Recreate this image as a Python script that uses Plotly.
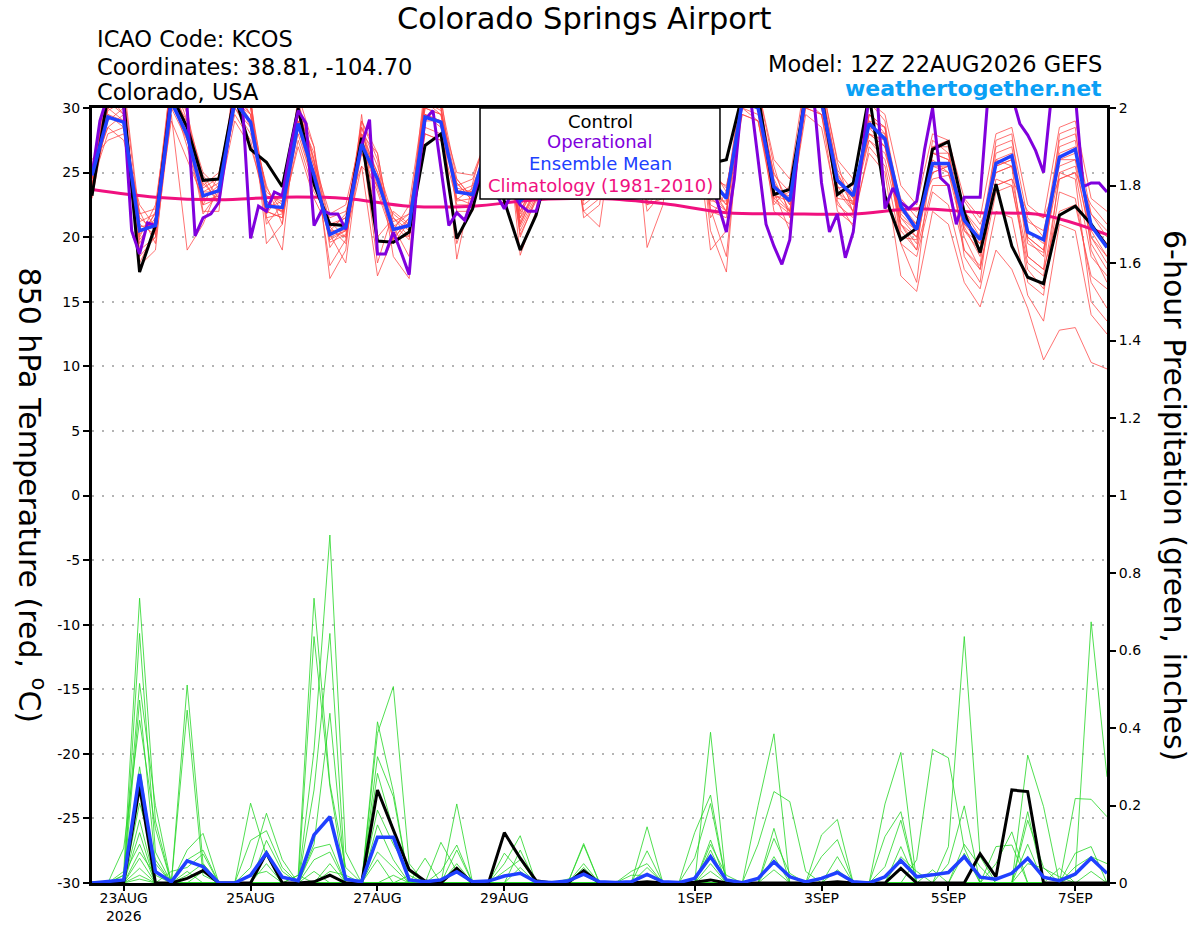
import pandas as pd
import plotly.graph_objects as go
from plotly.subplots import make_subplots

FONT = "DejaVu Sans"

# 6-hourly GEFS steps, 3-hourly operational run, daily climatology
times = pd.date_range("2026-08-22 12:00", periods=65, freq="6h")
times_op = pd.date_range("2026-08-22 12:00", periods=129, freq="3h")
times_clim = pd.date_range("2026-08-22 12:00", periods=17, freq="D")

tick_dates = ["2026-08-23", "2026-08-25", "2026-08-27", "2026-08-29",
              "2026-09-01", "2026-09-03", "2026-09-05", "2026-09-07"]
tick_text = ["23AUG<br>2026", "25AUG", "27AUG", "29AUG", "1SEP", "3SEP", "5SEP", "7SEP"]
temp_ticks = [-30, -25, -20, -15, -10, -5, 0, 5, 10, 15, 20, 25, 30]

# 850 hPa temperature (C)
control_temp = [
    23.2, 31.0, 30.5, 17.3, 20.9, 31.0, 28.5, 24.4, 24.5, 31.0,
    26.8, 25.8, 23.9, 30.0, 24.1, 21.0, 20.9, 27.7, 19.7, 19.6,
    20.4, 27.1, 28.0, 19.9, 22.2, 27.0, 22.8, 19.0, 21.7, 26.5,
    29.5, 25.0, 24.0, 29.5, 30.5, 25.0, 25.0, 30.5, 28.5, 25.7,
    26.0, 31.0, 31.0, 23.3, 23.7, 31.0, 31.0, 23.3, 24.2, 31.0,
    23.2, 19.8, 20.7, 26.8, 27.4, 21.9, 18.8, 24.1, 19.3, 16.9,
    16.4, 21.7, 22.4, 21.0, 19.3]

mean_temp = [
    24.8, 29.3, 28.9, 20.5, 20.9, 30.5, 27.9, 23.2, 23.6, 30.5,
    28.9, 22.4, 22.3, 28.8, 24.8, 20.2, 20.8, 27.2, 24.5, 20.6,
    20.9, 29.3, 28.9, 23.5, 23.3, 27.5, 27.5, 22.8, 24.0, 29.0,
    29.0, 24.0, 24.0, 29.0, 29.5, 24.0, 24.5, 29.5, 29.0, 24.5,
    23.0, 30.5, 30.0, 23.9, 22.8, 31.0, 30.5, 24.4, 23.2, 28.8,
    27.6, 22.4, 20.6, 25.7, 25.7, 21.3, 19.8, 25.7, 26.3, 20.4,
    19.8, 26.2, 26.8, 20.9, 19.2]

oper_temp = [
    24.8, 29.0, 31.0, 31.0, 30.0, 20.5, 18.7, 21.1, 20.9, 25.5,
    31.0, 31.0, 30.0, 20.1, 21.5, 21.8, 22.7, 26.8, 31.0, 30.0,
    19.9, 22.4, 22.0, 23.5, 23.2, 26.8, 29.8, 28.8, 20.9, 22.1,
    21.8, 21.8, 20.6, 24.2, 27.1, 29.1, 18.7, 18.7, 20.4, 18.8,
    17.1, 24.2, 29.1, 29.8, 25.5, 20.9, 21.9, 21.3, 23.0, 25.0,
    24.0, 23.3, 22.2, 23.5, 22.5, 22.0, 22.0, 24.0, 27.0, 29.5,
    30.0, 28.0, 25.5, 24.5, 24.0, 26.0, 29.0, 31.0, 31.0, 29.0,
    26.0, 25.0, 24.5, 26.5, 29.5, 31.0, 31.0, 28.0, 24.5, 22.5,
    20.4, 24.5, 31.0, 31.0, 26.0, 21.0, 19.3, 17.9, 19.8, 26.8,
    31.0, 31.0, 24.2, 20.4, 21.8, 18.4, 20.4, 25.5, 31.0, 31.0,
    22.2, 23.8, 22.7, 22.2, 22.8, 26.8, 30.0, 24.6, 24.0, 21.0,
    23.1, 23.1, 23.1, 31.0, 31.0, 31.0, 31.0, 28.8, 27.9, 26.7,
    25.0, 31.0, 31.0, 31.0, 31.0, 23.9, 24.2, 24.2, 23.5]

clim_temp = [23.7, 23.1, 22.9, 23.1, 23.0, 22.4, 22.4, 22.9, 23.0,
             22.6, 21.9, 21.8, 21.8, 22.2, 21.9, 21.7, 20.2]

member_temp = [
    [24.0, 31.5, 30.0, 19.8, 21.5, 32.0, 28.5, 23.8, 24.6, 31.5,
     29.5, 22.8, 21.9, 29.5, 25.5, 19.6, 20.2, 28.0, 25.0, 21.2,
     21.8, 30.5, 29.8, 22.9, 23.8, 27.5, 28.5, 21.0, 23.5, 30.5,
     30.0, 23.5, 24.8, 30.0, 30.5, 23.2, 25.0, 31.0, 30.0, 23.8,
     22.5, 31.5, 31.0, 24.5, 22.0, 32.0, 31.5, 25.0, 22.6, 29.5,
     28.0, 21.5, 20.0, 26.5, 26.0, 20.5, 18.9, 26.5, 27.0, 19.5,
     18.8, 27.0, 27.5, 20.0, 18.0],
    [25.2, 28.5, 29.5, 21.2, 21.8, 31.0, 27.0, 22.5, 23.0, 30.0,
     28.0, 23.2, 22.8, 28.0, 24.0, 20.8, 21.5, 26.5, 23.5, 19.9,
     20.1, 28.5, 28.0, 24.2, 22.8, 26.5, 27.5, 22.0, 24.5, 29.0,
     28.5, 24.5, 23.5, 28.5, 29.0, 24.8, 24.0, 29.5, 28.5, 25.2,
     23.8, 30.0, 29.5, 23.0, 23.5, 30.5, 30.0, 23.8, 24.0, 28.0,
     27.0, 23.0, 21.5, 25.0, 25.5, 22.0, 20.5, 25.0, 25.5, 21.2,
     20.5, 25.5, 26.0, 21.8, 20.0],
    [23.5, 30.5, 31.0, 18.5, 20.0, 33.0, 29.5, 24.5, 22.5, 32.0,
     30.5, 21.5, 19.0, 30.5, 26.0, 17.8, 19.8, 29.0, 26.0, 18.5,
     16.8, 31.5, 30.5, 18.3, 24.2, 28.5, 29.5, 20.2, 22.8, 31.0,
     30.5, 22.8, 25.5, 30.5, 31.5, 22.5, 23.8, 32.0, 31.0, 22.0,
     21.5, 32.5, 31.5, 25.5, 21.5, 33.0, 32.0, 25.8, 21.8, 30.5,
     29.0, 20.5, 19.0, 27.5, 26.5, 19.0, 17.8, 27.5, 28.0, 18.5,
     17.5, 28.0, 28.5, 19.0, 16.5],
    [26.0, 27.5, 28.0, 22.0, 19.5, 29.5, 19.0, 21.0, 24.0, 29.5,
     27.5, 22.0, 21.5, 27.5, 23.5, 21.5, 22.0, 25.5, 24.0, 21.0,
     19.8, 28.0, 27.5, 24.5, 23.0, 25.5, 27.0, 21.5, 25.0, 28.5,
     28.0, 25.0, 23.0, 28.0, 28.5, 25.5, 24.5, 29.0, 28.0, 24.5,
     24.0, 29.5, 29.0, 22.5, 24.0, 30.0, 29.5, 24.2, 23.5, 27.5,
     26.5, 22.5, 22.0, 24.5, 24.8, 22.8, 21.0, 24.0, 24.5, 22.0,
     21.5, 24.5, 25.0, 22.5, 21.0],
    [24.5, 32.0, 30.5, 20.0, 22.5, 31.5, 28.0, 21.8, 23.5, 31.0,
     29.0, 23.8, 22.0, 29.0, 25.0, 20.5, 20.5, 27.5, 18.0, 22.0,
     21.0, 30.0, 29.5, 22.5, 22.5, 27.0, 28.0, 20.5, 23.0, 30.0,
     29.5, 22.0, 20.8, 29.5, 30.0, 22.0, 23.5, 30.5, 29.5, 19.0,
     20.5, 31.0, 30.5, 24.0, 23.0, 31.5, 31.0, 23.5, 22.0, 29.0,
     27.5, 21.0, 19.5, 26.0, 25.0, 20.0, 17.5, 24.5, 24.0, 17.5,
     16.0, 23.5, 23.0, 16.5, 14.5],
    [23.0, 29.5, 29.0, 17.8, 19.0, 30.5, 28.5, 24.0, 25.0, 30.5,
     29.5, 21.0, 22.5, 29.5, 26.5, 21.0, 21.5, 28.5, 24.5, 20.5,
     22.5, 31.0, 30.0, 24.0, 24.5, 28.0, 29.0, 21.2, 24.0, 30.5,
     29.5, 23.8, 24.5, 29.5, 30.0, 24.0, 25.5, 31.0, 30.5, 23.5,
     22.0, 30.5, 30.0, 25.0, 22.5, 31.5, 30.5, 24.8, 23.0, 28.5,
     28.0, 22.0, 21.0, 26.5, 26.5, 21.5, 19.0, 26.0, 26.5, 20.0,
     19.0, 26.5, 27.0, 20.5, 18.5],
    [25.5, 30.0, 32.0, 21.5, 20.5, 32.5, 30.0, 22.0, 22.0, 33.0,
     31.0, 19.5, 21.0, 31.0, 27.0, 16.8, 19.0, 29.5, 20.0, 21.5,
     20.5, 32.0, 31.0, 22.0, 22.0, 29.0, 30.0, 18.6, 22.0, 31.5,
     31.0, 21.5, 22.5, 31.0, 32.0, 19.2, 22.5, 32.5, 31.5, 20.5,
     17.3, 31.5, 31.5, 23.5, 20.5, 32.0, 31.5, 22.8, 20.8, 29.5,
     28.5, 19.5, 16.5, 27.0, 27.0, 18.5, 16.5, 26.0, 25.5, 16.5,
     15.5, 25.0, 24.5, 15.0, 13.5],
    [24.2, 28.0, 28.5, 20.8, 21.0, 30.0, 27.5, 23.5, 24.2, 30.0,
     28.5, 22.2, 22.8, 28.5, 24.5, 19.8, 20.5, 27.0, 23.8, 20.2,
     21.5, 29.5, 29.0, 23.8, 23.5, 27.5, 28.5, 22.5, 24.0, 29.5,
     29.0, 23.2, 23.8, 29.0, 29.5, 23.5, 24.0, 30.5, 29.5, 22.8,
     22.8, 31.0, 30.5, 24.2, 22.5, 31.0, 30.5, 24.5, 23.0, 28.0,
     27.5, 21.8, 20.5, 25.5, 25.5, 21.0, 19.5, 25.5, 26.0, 20.5,
     19.5, 26.0, 26.5, 21.0, 19.5],
    [24.8, 31.0, 29.5, 19.0, 20.0, 31.0, 29.0, 25.0, 23.8, 31.5,
     30.0, 23.5, 22.5, 30.0, 25.8, 21.8, 22.5, 28.0, 26.5, 19.5,
     21.2, 30.5, 29.5, 25.0, 24.8, 28.0, 29.0, 23.5, 25.5, 31.0,
     30.0, 24.8, 25.0, 30.5, 31.0, 25.0, 25.8, 31.5, 30.5, 25.5,
     23.5, 32.0, 31.5, 26.0, 24.5, 32.5, 32.0, 26.0, 24.5, 30.5,
     29.5, 24.0, 22.5, 28.0, 27.5, 23.0, 21.5, 28.0, 28.5, 22.5,
     21.5, 28.5, 29.0, 23.0, 22.0],
    [23.8, 29.0, 30.0, 20.2, 21.8, 31.5, 28.0, 22.8, 23.2, 30.5,
     29.0, 22.0, 21.5, 29.0, 25.0, 20.2, 18.0, 27.5, 25.0, 20.8,
     18.5, 29.5, 29.0, 19.5, 23.0, 27.0, 28.0, 20.8, 23.2, 29.5,
     29.0, 22.5, 23.5, 29.0, 29.5, 22.8, 24.0, 30.0, 29.0, 22.2,
     18.5, 30.5, 30.0, 22.0, 21.0, 30.5, 29.5, 22.0, 21.0, 27.0,
     25.5, 19.5, 18.5, 23.5, 22.5, 17.5, 16.0, 22.0, 21.5, 15.5,
     13.5, 21.0, 20.5, 14.0, 12.5],
    [24.5, 30.5, 29.5, 20.5, 21.2, 31.0, 28.5, 23.5, 23.5, 31.0,
     29.5, 22.5, 22.0, 29.5, 25.0, 20.0, 20.5, 28.0, 24.5, 20.5,
     21.0, 30.0, 29.5, 23.5, 23.5, 27.5, 28.5, 21.8, 24.0, 30.0,
     29.5, 24.0, 24.5, 29.5, 30.0, 24.5, 24.0, 30.5, 29.5, 24.0,
     23.0, 30.0, 29.0, 23.0, 22.0, 29.5, 28.5, 22.5, 21.5, 26.5,
     25.0, 17.0, 15.8, 22.0, 21.0, 16.5, 14.6, 19.0, 17.5, 14.5,
     10.5, 12.8, 13.0, 10.3, 9.8],
    [25.0, 31.0, 31.5, 21.0, 20.2, 30.0, 29.0, 24.2, 22.8, 32.0,
     30.0, 21.8, 23.5, 30.0, 26.0, 20.8, 19.5, 28.5, 25.5, 21.5,
     20.0, 31.0, 30.0, 23.0, 22.5, 28.0, 29.0, 20.0, 23.0, 30.5,
     30.5, 23.0, 24.0, 30.0, 30.5, 23.8, 24.8, 31.0, 30.0, 24.0,
     22.0, 31.0, 30.5, 23.5, 23.2, 31.0, 30.5, 23.0, 22.8, 28.5,
     27.0, 21.0, 20.0, 25.0, 25.5, 20.5, 19.5, 24.0, 24.5, 18.5,
     17.5, 22.0, 22.5, 17.0, 16.0],
    [24.6, 29.8, 30.5, 19.5, 22.0, 32.5, 29.0, 22.5, 24.8, 31.0,
     30.5, 23.0, 23.2, 30.0, 27.0, 19.2, 21.0, 29.0, 26.5, 19.8,
     21.5, 30.5, 30.5, 24.5, 23.0, 28.5, 29.5, 22.0, 24.5, 31.0,
     30.5, 25.5, 24.0, 31.0, 31.0, 23.0, 24.0, 31.5, 30.5, 21.5,
     23.5, 31.5, 31.0, 24.8, 23.5, 31.5, 31.5, 25.2, 23.5, 29.0,
     28.5, 22.5, 21.0, 27.0, 27.5, 22.0, 20.0, 27.0, 27.5, 21.5,
     20.0, 27.5, 28.0, 21.8, 20.5],
    [25.0, 28.5, 27.5, 22.5, 20.8, 29.0, 26.0, 23.0, 23.0, 29.0,
     27.0, 22.8, 22.0, 27.0, 23.0, 20.5, 20.0, 25.5, 17.0, 20.0,
     21.2, 28.0, 27.5, 22.8, 23.0, 26.5, 27.0, 21.5, 23.5, 28.5,
     28.0, 22.0, 23.0, 28.0, 28.0, 22.5, 23.0, 29.0, 28.0, 23.0,
     22.0, 29.5, 29.0, 23.5, 22.0, 30.0, 29.5, 23.5, 22.5, 27.5,
     26.0, 21.0, 19.0, 24.0, 24.0, 19.0, 17.5, 23.5, 24.0, 18.0,
     17.0, 24.5, 25.0, 18.5, 17.0],
    [23.5, 30.0, 29.0, 18.0, 20.5, 31.0, 27.5, 24.8, 23.0, 31.0,
     28.5, 21.5, 21.8, 29.0, 25.5, 20.5, 21.8, 27.5, 24.0, 21.8,
     20.8, 29.0, 29.0, 23.5, 24.0, 27.0, 28.0, 21.0, 23.8, 30.0,
     29.5, 23.5, 23.0, 29.5, 30.5, 24.2, 23.2, 30.5, 29.5, 22.5,
     21.8, 31.0, 30.5, 22.8, 21.8, 31.5, 31.0, 24.0, 22.0, 29.5,
     28.5, 20.0, 19.8, 26.5, 26.0, 20.8, 18.5, 25.5, 26.0, 19.8,
     18.5, 26.0, 26.0, 19.5, 17.5],
    [24.0, 29.5, 28.5, 21.8, 22.2, 30.5, 28.0, 23.0, 24.0, 30.5,
     29.0, 24.0, 21.0, 28.5, 24.0, 21.2, 20.0, 26.5, 24.5, 20.8,
     21.8, 29.5, 28.5, 24.2, 22.8, 27.0, 28.5, 22.8, 24.8, 29.5,
     29.0, 24.5, 24.8, 29.5, 29.5, 23.8, 25.0, 30.0, 29.0, 24.2,
     22.5, 30.5, 30.0, 23.2, 22.8, 30.5, 30.0, 24.5, 22.5, 28.0,
     27.0, 21.5, 20.5, 25.5, 25.0, 21.0, 20.0, 25.0, 25.5, 20.0,
     19.0, 25.0, 25.5, 20.0, 18.5],
]

# 6-hour precipitation (inches)
control_precip = [
    0, 0, 0.003, 0.249, 0, 0, 0.012, 0.032, 0, 0,
    0, 0.077, 0, 0, 0.003, 0.02, 0, 0, 0.24, 0.137,
    0.034, 0.005, 0, 0.038, 0, 0, 0.13, 0.064, 0.006, 0,
    0, 0.032, 0, 0, 0, 0.003, 0, 0, 0.002, 0.008,
    0, 0, 0, 0, 0, 0, 0, 0.003, 0, 0,
    0, 0.038, 0, 0, 0, 0, 0.075, 0.016, 0.24, 0.236,
    0, 0, 0, 0, 0]

mean_precip = [
    0, 0.003, 0.008, 0.281, 0.029, 0.003, 0.057, 0.042, 0, 0,
    0.02, 0.077, 0.015, 0.006, 0.124, 0.171, 0.01, 0.003, 0.118, 0.118,
    0.008, 0.003, 0.008, 0.029, 0.003, 0.005, 0.018, 0.025, 0.003, 0.001,
    0.005, 0.023, 0.003, 0.001, 0.003, 0.022, 0.003, 0.001, 0.012, 0.068,
    0.008, 0.001, 0.012, 0.055, 0.016, 0.003, 0.012, 0.027, 0.003, 0,
    0.016, 0.058, 0.016, 0.021, 0.027, 0.068, 0.015, 0.01, 0.025, 0.064,
    0.015, 0.006, 0.023, 0.064, 0.025]

member_precip = [
    [0, 0, .03, .735, .16, 0, .085, .128, 0, 0,
     0, 0, 0, 0, .1, .438, 0, 0, 0, 0,
     0, 0, 0, .085, 0, 0, 0, 0, 0, 0,
     0, 0, 0, 0, 0, .083, 0, 0, 0, 0,
     0, 0, 0, .115, .025, 0, 0, 0, 0, 0,
     0, 0, 0, .034, 0, .077, 0, 0, 0, 0,
     0, 0, 0, 0, 0],
    [0, 0, 0, .644, .08, 0, 0, 0, 0, 0,
     .206, .07, 0, 0, 0, 0, 0, 0, .416, .236,
     0, 0, 0, 0, 0, 0, 0, .04, 0, 0,
     0, 0, 0, 0, 0, 0, 0, 0, 0, .389,
     0, 0, 0, 0, 0, 0, 0, 0, 0, 0,
     .12, .184, 0, 0, 0, 0, 0, 0, 0, 0,
     0, 0, .042, .068, .05],
    [0, 0, .02, .515, .2, 0, .511, .05, 0, 0,
     0, 0, 0, 0, .03, 0, 0, 0, .08, .04,
     0, 0, 0, 0, 0, 0, 0, 0, 0, 0,
     0, .04, 0, 0, 0, 0, 0, 0, 0, 0,
     0, 0, .2, .385, 0, 0, 0, 0, 0, 0,
     0, 0, 0, 0, 0, 0, 0, 0, 0, .33,
     .197, 0, 0, 0, 0],
    [0, 0, 0, .472, .05, 0, 0, 0, 0, 0,
     0, .05, 0, .02, .735, .257, .04, 0, 0, 0,
     0, 0, 0, 0, 0, 0, .077, .03, 0, 0,
     0, 0, 0, 0, 0, 0, 0, 0, 0, .111,
     0, 0, 0, 0, 0, 0, 0, 0, 0, 0,
     0, 0, .06, .345, .323, .09, 0, 0, 0, 0,
     0, 0, 0, 0, 0],
    [0, 0, .09, .42, .14, 0, .06, .085, 0, 0,
     0, 0, 0, 0, .09, .1, 0, 0, 0, 0,
     0, 0, .105, .03, 0, 0, 0, 0, 0, 0,
     0, 0, 0, 0, .02, .02, 0, 0, 0, 0,
     0, 0, 0, 0, 0, 0, .068, .112, 0, 0,
     0, 0, 0, 0, 0, 0, 0, 0, 0, .1,
     0, .038, 0, 0, 0],
    [0, 0, 0, .3, .03, 0, 0, 0, 0, 0,
     .11, .135, .04, 0, 0, 0, 0, 0, .386, .507,
     .05, 0, 0, 0, 0, 0, 0, 0, 0, 0,
     0, .102, 0, 0, 0, 0, 0, 0, 0, 0,
     0, 0, 0, .141, 0, 0, 0, 0, 0, 0,
     0, 0, 0, 0, .05, .199, 0, 0, 0, 0,
     0, 0, 0, .03, 0],
    [0, 0, 0, .25, 0, 0, 0, .03, 0, 0,
     0, 0, 0, 0, .343, .898, .08, 0, 0, 0,
     0, 0, 0, 0, 0, 0, .05, .122, 0, 0,
     0, 0, 0, 0, 0, 0, 0, 0, 0, .085,
     0, 0, 0, 0, 0, 0, 0, 0, 0, 0,
     .042, .162, 0, 0, 0, 0, 0, 0, 0, 0,
     0, 0, .218, .216, .171],
    [0, 0, 0, .206, .06, 0, 0, 0, 0, 0,
     .04, .18, .06, 0, 0, 0, 0, 0, .188, .1,
     .03, 0, 0, 0, 0, 0, 0, 0, 0, 0,
     0, 0, 0, 0, 0, .145, 0, 0, 0, 0,
     0, 0, 0, .034, 0, 0, 0, 0, 0, 0,
     0, 0, 0, 0, 0, 0, 0, .05, .132, 0,
     0, 0, 0, 0, 0],
    [0, 0, 0, .163, 0, 0, .446, .02, 0, 0,
     0, 0, 0, 0, 0, .03, .02, 0, 0, 0,
     0, 0, 0, .204, 0, 0, 0, 0, 0, 0,
     0, 0, 0, 0, 0, 0, 0, 0, .13, .227,
     0, 0, 0, 0, 0, 0, 0, 0, 0, 0,
     0, .068, .03, 0, 0, 0, 0, 0, 0, 0,
     0, 0, .077, .094, 0],
    [0, 0, .02, .1, 0, 0, 0, 0, 0, 0,
     0, 0, 0, 0, .636, .25, 0, 0, .06, 0,
     .02, 0, 0, 0, 0, 0, 0, .085, 0, 0,
     0, 0, 0, 0, 0, 0, 0, 0, 0, .03,
     0, 0, 0, 0, 0, 0, .124, .164, 0, 0,
     0, 0, 0, 0, 0, 0, 0, 0, 0, .184,
     0, 0, 0, 0, 0],
    [0, 0, 0, .064, 0, .03, .04, .075, 0, 0,
     0, 0, 0, 0, .06, .08, 0, 0, 0, 0,
     0, 0, .03, .098, 0, 0, 0, 0, 0, 0,
     0, 0, 0, 0, .03, .05, 0, 0, 0, 0,
     0, 0, 0, .068, 0, 0, 0, 0, 0, 0,
     0, 0, 0, 0, .094, .636, .068, 0, 0, 0,
     0, 0, 0, 0, 0],
    [0, 0, 0, .038, 0, 0, 0, 0, 0, 0,
     0, .11, .03, 0, 0, 0, 0, 0, .326, .223,
     0, 0, 0, 0, 0, 0, 0, 0, 0, 0,
     0, .098, 0, 0, 0, 0, 0, 0, 0, .1,
     .02, 0, 0, 0, 0, 0, 0, 0, 0, 0,
     .204, .337, 0, 0, 0, 0, 0, 0, 0, .05,
     .038, .016, 0, 0, 0],
    [0, 0, 0, .02, 0, 0, 0, 0, 0, 0,
     .02, .03, 0, 0, .24, .644, 0, 0, 0, 0,
     0, 0, 0, .05, 0, 0, 0, 0, 0, 0,
     0, 0, 0, 0, 0, .04, 0, 0, 0, 0,
     0, 0, 0, 0, 0, 0, 0, .068, 0, 0,
     0, 0, 0, 0, 0, 0, 0, .094, .098, 0,
     0, 0, 0, 0, 0],
    [0, 0, 0, .01, 0, 0, .02, .05, 0, 0,
     0, 0, 0, 0, 0, 0, 0, 0, .283, .137,
     0, 0, 0, 0, 0, 0, 0, 0, 0, 0,
     0, .05, 0, 0, 0, 0, 0, 0, 0, 0,
     0, 0, .1, .236, .21, .03, 0, 0, 0, 0,
     0, 0, 0, 0, 0, .1, .042, 0, 0, 0,
     0, 0, 0, 0, 0],
    [0, 0, 0, .08, .02, 0, 0, 0, 0, 0,
     0, .085, 0, 0, 0, 0, 0, 0, .15, .06,
     0, 0, 0, 0, 0, 0, .03, .06, 0, 0,
     0, 0, 0, 0, 0, 0, 0, 0, .065, .205,
     0, 0, 0, 0, 0, 0, 0, 0, 0, 0,
     0, .094, 0, 0, 0, 0, 0, 0, 0, 0,
     0, 0, .02, .674, .274],
    [0, 0, 0, .13, 0, 0, .03, 0, 0, 0,
     0, 0, 0, .02, 0, .05, 0, 0, 0, .02,
     0, .064, 0, 0, 0, 0, 0, 0, 0, 0,
     .01, .02, 0, 0, 0, 0, 0, 0, 0, .05,
     0, 0, 0, 0, 0, 0, 0, .034, 0, 0,
     0, 0, 0, 0, 0, 0, 0, 0, 0, .162,
     .04, 0, 0, 0, 0],
]

for series in [control_temp, mean_temp, control_precip, mean_precip] + member_temp + member_precip:
    assert len(series) == len(times), len(series)
assert len(oper_temp) == len(times_op)
assert len(clim_temp) == len(times_clim)

RED = "rgba(255,70,70,0.85)"
GREEN = "rgba(40,215,40,0.9)"
OPER = "#8000dd"
MEAN = "#2040ff"
CLIM = "#f0107f"

fig = make_subplots(specs=[[{"secondary_y": True}]])

# precipitation spaghetti (right axis)
for m in member_precip:
    fig.add_trace(go.Scatter(x=times, y=m, mode="lines", line=dict(color=GREEN, width=0.9),
                             hoverinfo="skip"), secondary_y=True)
fig.add_trace(go.Scatter(x=times, y=control_precip, mode="lines",
                         line=dict(color="black", width=3)), secondary_y=True)
fig.add_trace(go.Scatter(x=times, y=mean_precip, mode="lines",
                         line=dict(color=MEAN, width=3.5)), secondary_y=True)

# temperature spaghetti (left axis)
for m in member_temp:
    fig.add_trace(go.Scatter(x=times, y=m, mode="lines", line=dict(color=RED, width=0.9),
                             hoverinfo="skip"), secondary_y=False)
fig.add_trace(go.Scatter(x=times_clim, y=clim_temp, mode="lines",
                         line=dict(color=CLIM, width=3, shape="spline")), secondary_y=False)
fig.add_trace(go.Scatter(x=times, y=control_temp, mode="lines",
                         line=dict(color="black", width=3)), secondary_y=False)
fig.add_trace(go.Scatter(x=times_op, y=oper_temp, mode="lines",
                         line=dict(color=OPER, width=3)), secondary_y=False)
fig.add_trace(go.Scatter(x=times, y=mean_temp, mode="lines",
                         line=dict(color=MEAN, width=3.5)), secondary_y=False)

fig.update_traces(showlegend=False)

tick_font = dict(family=FONT, size=14, color="black")
fig.update_xaxes(
    type="date", range=[times[0], times[-1]], domain=[0, 1], automargin=False,
    tickmode="array", tickvals=tick_dates, ticktext=tick_text,
    ticks="outside", ticklen=5, tickwidth=1.5, tickcolor="black", ticklabelstandoff=-5,
    showline=True, linewidth=3, linecolor="black", mirror=True,
    showgrid=False, zeroline=False, tickfont=tick_font,
)
fig.update_yaxes(
    range=[-30, 30], tickmode="array", tickvals=temp_ticks,
    ticktext=[str(t) for t in temp_ticks], automargin=False,
    ticks="outside", ticklen=6, tickwidth=1.5, tickcolor="black",
    showline=True, linewidth=3, linecolor="black", mirror=True,
    showgrid=True, gridcolor="#b4b4b4", gridwidth=1.5, griddash="2px,8px",
    zeroline=False, tickfont=tick_font, secondary_y=False,
)
fig.update_yaxes(
    range=[0, 2], tickmode="linear", tick0=0, dtick=0.2, automargin=False,
    ticks="outside", ticklen=6, tickwidth=1.5, tickcolor="black",
    showline=True, linewidth=3, linecolor="black",
    showgrid=False, zeroline=False, tickfont=tick_font, secondary_y=True,
)

def note(text, x, y, size, xanchor="left", color="black", bold=False, angle=0):
    if bold:
        text = "<b>" + text + "</b>"
    fig.add_annotation(text=text, x=x, y=y, xref="paper", yref="paper",
                       xanchor=xanchor, yanchor="middle", showarrow=False,
                       textangle=angle, font=dict(family=FONT, size=size, color=color))

# header
note("Colorado Springs Airport", 0.4847, 1.1161, 30.5, xanchor="center")
note("ICAO Code: KCOS", 0.003, 1.0890, 22.5)
note("Coordinates: 38.81, -104.70", 0.003, 1.0529, 22.5)
note("Colorado, USA", 0.003, 1.0200, 22.5)
note("Model: 12Z 22AUG2026 GEFS", 0.9975, 1.0568, 22.5, xanchor="right")
note("weathertogether.net", 0.9975, 1.0252, 22, xanchor="right", color="#0aa0f5", bold=True)

# axis titles, both reading top to bottom
note("850 hPa Temperature (red, <sup>o</sup>C)", -0.0596, 0.5006, 30, xanchor="center", angle=90)
note("6-hour Precipitation (green, inches)", 1.067, 0.5006, 30, xanchor="center", angle=90)

# legend box
fig.add_shape(type="rect", xref="paper", yref="paper", x0=0.3823, x1=0.6187, y0=0.8826, y1=1.0,
              fillcolor="white", line=dict(color="black", width=1.5), layer="above")
legend_rows = [("Control", "black", 0.9832), ("Operational", OPER, 0.9568),
               ("Ensemble Mean", MEAN, 0.9284), ("Climatology (1981-2010)", CLIM, 0.9000)]
for label, color, y in legend_rows:
    note(label, 0.5005, y, 18, xanchor="center", color=color)

fig.update_layout(
    width=1200, height=927, autosize=False,
    margin=dict(l=92, r=93, t=108, b=44),
    paper_bgcolor="white", plot_bgcolor="white",
    font=dict(family=FONT, color="black"),
    showlegend=False,
)

# drop the default body margin so the figure sits at the page origin
fig.write_html("out.html", config={"displayModeBar": False},
               post_script="document.body.style.margin = '0px';")
